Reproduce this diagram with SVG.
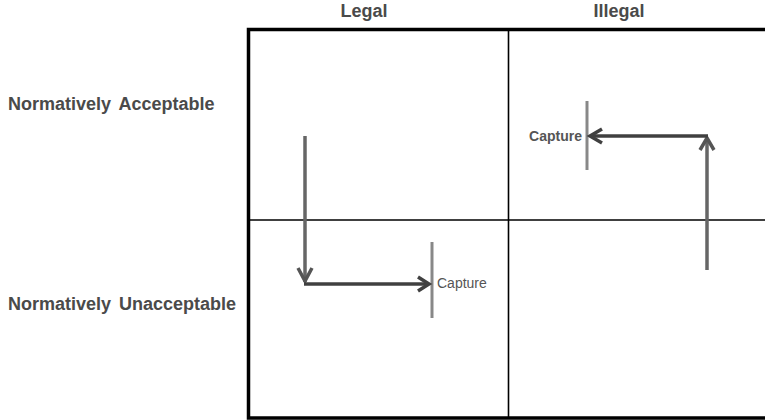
<svg xmlns="http://www.w3.org/2000/svg" width="765" height="420" viewBox="0 0 765 420">
<style>
.hdr{font-family:"Liberation Sans",Arial,sans-serif;font-weight:bold;font-size:18px;fill:#4a4a4a}
.cap{font-family:"Liberation Sans",Arial,sans-serif;font-size:14px;fill:#555}
.frame{fill:none;stroke:#000}
.bar{stroke:#888;stroke-width:3}
.shaft{fill:none;stroke-width:3.5;stroke-linecap:butt}
.head{fill:none;stroke-width:3.5;stroke-linejoin:miter}
</style>
<rect width="765" height="420" fill="#fff"/>
<g id="grid">
<path class="frame" d="M765 29.5 H248.5 V418 H765" stroke-width="3.5"/>
<line x1="508.5" y1="30" x2="508.5" y2="417" stroke="#000" stroke-width="1.6"/>
<line x1="249" y1="220" x2="765" y2="220" stroke="#000" stroke-width="1.6"/>
</g>
<g id="labels">
<text class="hdr" x="364" y="17" text-anchor="middle">Legal</text>
<text class="hdr" x="619" y="17" text-anchor="middle">Illegal</text>
<text class="hdr" x="8" y="110" word-spacing="3">Normatively Acceptable</text>
<text class="hdr" x="8" y="310" word-spacing="3">Normatively Unacceptable</text>
</g>
<g id="capture-legal">
<line class="bar" x1="432" y1="242" x2="432" y2="318"/>
<text class="cap" x="437" y="288" font-size="14.5">Capture</text>
</g>
<g id="capture-illegal">
<line class="bar" x1="587" y1="101" x2="587" y2="170"/>
<text class="cap" x="582" y="141" text-anchor="end" font-weight="bold">Capture</text>
</g>
<g id="connectors">
<line class="shaft" x1="305" y1="136" x2="305" y2="282" stroke="#666"/>
<polyline class="head" points="298,268 305,281 312,268" stroke="#555"/>
<line class="shaft" x1="304" y1="284" x2="428" y2="284" stroke="#404040"/>
<polyline class="head" points="418,277 429,284 418,291" stroke="#404040"/>
<line class="shaft" x1="707" y1="270" x2="707" y2="139" stroke="#666"/>
<polyline class="head" points="700,150 707,138 714,150" stroke="#555"/>
<line class="shaft" x1="708" y1="136" x2="591" y2="136" stroke="#404040"/>
<polyline class="head" points="602,129 590,136 602,143" stroke="#404040"/>
</g>
</svg>
